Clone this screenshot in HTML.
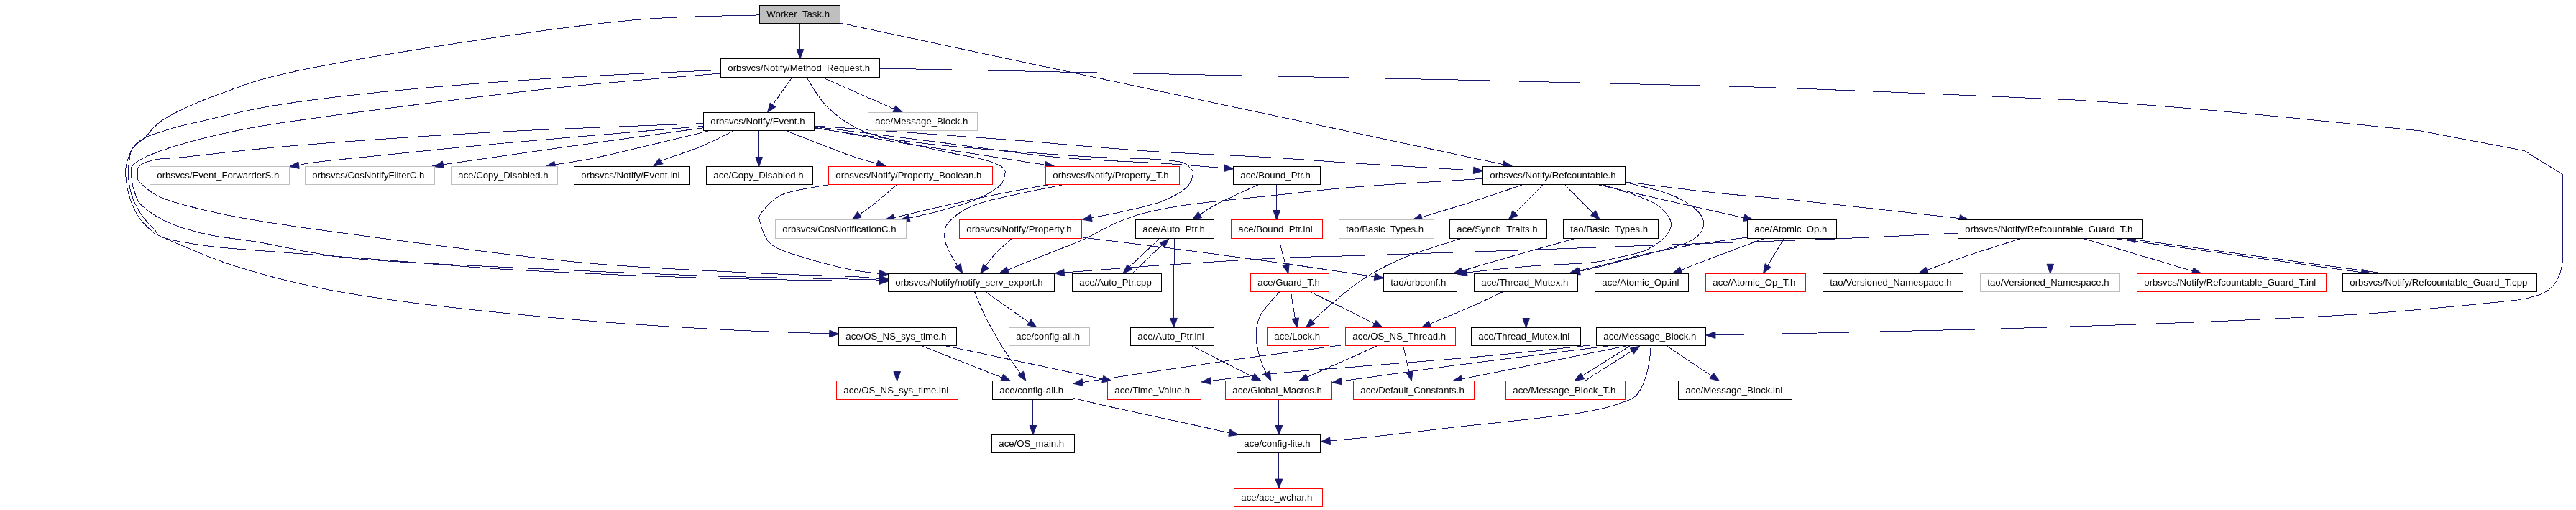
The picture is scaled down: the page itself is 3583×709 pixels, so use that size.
<!DOCTYPE html><html><head><meta charset="utf-8"><title>Worker_Task.h include graph</title>
<style>html,body{margin:0;padding:0;background:#fff}svg{display:block}text{font-family:"Liberation Sans",sans-serif;font-size:13.2px;fill:#000}</style></head><body>
<svg width="3583" height="709" viewBox="0 0 3583 709">
<rect x="0" y="0" width="3583" height="709" fill="#ffffff"/>
<g fill="none" stroke="#191970" stroke-width="1" shape-rendering="crispEdges">
<path d="M1112.4,32.5 L1112.4,72.5"/>
<path d="M1056,20.9 C1026.9,22 949.1,21.6 881.4,27.8 C813.6,34 728.4,46 649.5,58 C570.6,70 466.2,87.3 408.2,99.7 C350.2,112.1 331.3,121.4 301.5,132.2 C271.7,143 246.3,154.8 229.6,164.7 C212.9,174.6 208.8,184.6 201.2,191.6 C193.6,198.6 188.5,200.4 184.3,206.5 C180.1,212.6 177.6,221.7 176,228 C174.4,234.3 174.3,237.2 174.9,244.5 C175.5,251.8 176.8,262.9 179.6,272 C182.3,281.1 186.2,291.2 191.4,299.4 C196.6,307.6 204.8,315.8 211,321 C217.2,326.2 209.7,322.8 228.6,330.8 C247.5,338.8 287.5,357.4 324.7,369.2 C361.9,381 405.8,392.6 451.8,401.8 C497.8,411 538.8,416.8 600.9,424.2 C663,431.6 756.2,440.8 824.5,446.5 C892.8,452.2 955.5,455.6 1010.9,458.5 C1066.3,461.4 1132.7,463.1 1157.1,464.1"/>
<path d="M1002.5,97.4 C966.9,99.1 862.9,102.9 788.6,107.6 C714.3,112.2 624,118.9 556.7,125.3 C489.4,131.7 432.2,138.7 385,146.1 C337.8,153.5 297.7,164.7 273.7,170 C249.7,175.3 253.3,174.4 241.2,178 C229.1,181.6 210.7,186.8 201.2,191.6 C191.7,196.3 187.9,200.8 184.3,206.5 C180.7,212.2 180.5,219.7 179.5,226 C178.5,232.3 177.7,236.8 178.4,244.5 C179.1,252.2 180.3,262.9 183.5,272 C186.7,281.1 192.1,291.6 197.3,299.4 C202.5,307.2 209.7,313.8 214.9,319 C220.1,324.2 215.5,326.9 228.6,330.8 C241.7,334.7 271.4,339.6 293.3,342.5 C315.2,345.4 321.1,345.3 360,348.4 C398.9,351.4 467.6,356.4 526.4,360.8 C585.2,365.2 638.2,370.8 712.7,375 C787.2,379.2 895.7,383.6 973.6,386.2 C1051.5,388.8 1137.9,389.6 1180,390.4 C1222.1,391.2 1218.6,390.7 1226.3,390.7"/>
<path d="M1002.5,102 C966.9,105.1 862.9,112.9 788.6,120.6 C714.3,128.3 626.3,139.5 556.7,148.4 C487.1,157.3 417.6,166.5 371.1,174 C324.6,181.5 303.6,187 277.6,193.5 C251.6,200 230.3,207.1 215,213 C199.7,218.9 190.9,223.8 185.5,229 C180.1,234.2 182.4,238 182.7,244.5 C183,251 184.8,260.8 187.5,268 C190.2,275.2 190.7,280.4 199.2,287.6 C207.7,294.8 222.7,304.6 238.4,311.2 C254.1,317.8 273,322.6 293.3,326.9 C313.6,331.1 327.4,331.3 360,336.7 C392.6,342.1 430.2,353.1 489,359 C547.8,364.9 631.9,368 712.7,372 C793.5,376 895.7,380.5 973.6,383.2 C1051.5,385.9 1137.9,387 1180,388 C1222.1,389 1218.6,389.1 1226.3,389.3"/>
<path d="M978.4,171.6 C931.3,173.5 789.4,178.2 695.9,183.2 C602.4,188.2 490.2,196 417.5,201.8 C344.8,207.6 292.9,214.7 259.8,218 C226.7,221.3 229.8,219.6 219,221.5 C208.2,223.4 199.9,226.1 195.3,229.6 C190.7,233.1 191.1,238.1 191.4,242.5 C191.7,246.9 189.2,249.8 197,256 C204.8,262.2 211.2,271.3 238.4,279.8 C265.6,288.3 299.6,296.9 360,307 C420.4,317.1 523.5,330.4 600.9,340.3 C678.3,350.2 750,359.9 824.5,366.4 C899,372.9 988.8,376.5 1048,379.5 C1107.2,382.5 1151,382.9 1180,384.2 C1209,385.5 1214.3,386.7 1222,387.3 C1229.7,387.9 1225.6,387.5 1226.3,387.6"/>
<path d="M978.4,175.4 C931.3,179.4 781.6,191.6 695.9,199.5 C610.1,207.4 511.3,217.6 463.9,222.7 C416.5,227.8 420,229 411.2,230.2"/>
<path d="M978.4,177.7 C946.8,182.1 849.2,195.5 788.6,204.1 C728,212.7 644.4,224.7 615,229 C585.6,233.3 612.6,229.5 612.1,229.6"/>
<path d="M988,181.4 C962.5,187.5 871.2,210.1 835,218 C798.8,225.9 782.2,227 771,229 C759.8,231 768.1,229.6 767.5,229.7"/>
<path d="M1021.5,181.4 C1013.6,185.2 991,197 974,204 C957,211 929.1,219.8 919.4,223.5 C909.7,227.2 916.3,225.6 915.7,226"/>
<path d="M1055.2,181.4 L1055.2,222.4"/>
<path d="M1092.5,181.4 C1106.8,186.9 1156.6,206.8 1178.4,214.7 C1200.2,222.6 1215.8,226.2 1223.3,228.5"/>
<path d="M1132.4,177 C1152,180.5 1214.7,192.1 1250,198 C1285.3,203.9 1309.5,206.9 1344,212.2 C1378.5,217.5 1438.3,226.9 1457.1,229.8"/>
<path d="M1132.4,176 C1160.3,179.5 1244,189.9 1300,197 C1356,204.1 1415.6,213.5 1468.6,218.5 C1521.6,223.5 1578.4,224.6 1618,227.2 C1657.6,229.8 1691.4,232.9 1706.1,234"/>
<path d="M1132.4,175 C1176,178.1 1317.1,187.8 1393.9,193.6 C1470.7,199.4 1532.1,205.7 1593.1,209.8 C1654.1,214 1710.7,215.6 1760,218.5 C1809.3,221.4 1840.2,224.1 1889,227.2 C1937.8,230.3 2025.7,235.4 2053,237.1"/>
<path d="M1132.4,178 C1160.3,181.8 1238.7,194.5 1300,201 C1361.3,207.5 1450,213.7 1500,217 C1550,220.3 1576.2,219.6 1600,221 C1623.8,222.4 1633.7,223.3 1643,225.5 C1652.3,227.7 1653.3,231.2 1656,234 C1658.7,236.8 1660.2,237.9 1659.2,242.5 C1658.2,247.1 1657.1,255.1 1649.8,261.4 C1642.5,267.7 1628.9,275 1615.3,280.2 C1601.7,285.4 1583.9,289 1568.2,292.7 C1552.5,296.4 1530.3,300.4 1521.2,302.2 C1512.1,304 1515.1,303.4 1513.8,303.6"/>
<path d="M1121.7,107.6 C1126.5,114.4 1138.3,136.4 1150.5,148.5 C1162.7,160.6 1179,172.2 1194.7,179.9 C1210.4,187.6 1225.3,189.8 1244.5,194.8 C1263.7,199.8 1289.2,205.4 1310,210 C1330.8,214.6 1355,218.5 1369,222.2 C1383,225.9 1389.1,228.7 1393.9,232.2 C1398.7,235.7 1398.5,238.8 1397.6,243.4 C1396.7,248 1396.3,253.8 1388.6,259.9 C1380.9,266 1366.1,273.9 1351.3,279.8 C1336.5,285.7 1315.1,291 1300,295 C1284.9,299 1267.1,302.5 1260.6,304"/>
<path d="M1101.8,107.6 L1072.3,149.1"/>
<path d="M1143.5,107.6 L1247,152.9"/>
<path d="M1168.6,32 L2094.1,229.3"/>
<path d="M1247.9,256.4 C1242.3,261.1 1223.6,277.5 1214.3,284.8 C1205,292.1 1195.6,297.7 1191.9,300.3"/>
<path d="M1154.5,256.4 C1143.7,258.6 1105.6,263.5 1089.8,269.9 C1074,276.3 1065.3,288.2 1059.9,294.8 C1054.5,301.4 1055.3,302.2 1057.4,309.7 C1059.5,317.2 1062.8,331.7 1072.4,339.6 C1082.1,347.5 1097.4,351.3 1115.3,357.1 C1133.2,362.9 1162.2,370.3 1180,374.2 C1197.8,378.1 1214.5,379.2 1222.2,380.3 C1229.9,381.4 1225.6,380.5 1226.3,380.6"/>
<path d="M1458.4,256.7 C1442.6,259.7 1400.2,267.1 1363.7,274.9 C1327.2,282.7 1260.1,298.7 1239.4,303.5"/>
<path d="M1478.8,256.7 C1459.6,261 1389.9,273.9 1363.7,282.3 C1337.5,290.7 1329.7,299.7 1321.4,307.2 C1313.1,314.7 1314.3,320.5 1313.9,327.2 C1313.5,333.9 1315.6,339.6 1318.9,347.1 C1322.2,354.6 1331.2,368.2 1333.6,372.4"/>
<path d="M1407.3,331.6 C1403.6,335 1391.4,345.1 1385,352 C1378.6,358.9 1371.4,369.6 1368.7,373.1"/>
<path d="M1504.4,329.8 C1525.5,332.4 1585.1,339.6 1631,345.5 C1676.9,351.4 1738.5,359.8 1780,365.5 C1821.5,371.2 1857.4,376.5 1880,379.8 C1902.6,383.1 1909.4,384.4 1915.3,385.3"/>
<path d="M1750.2,256.7 C1740.8,261.1 1707.8,276 1693.7,283.3 C1679.6,290.6 1670.1,297.7 1665.4,300.6"/>
<path d="M1775.2,256.6 L1775.2,296.4"/>
<path d="M1780,331.4 C1780.3,333.7 1780.5,338.3 1782,345 C1783.5,351.7 1787.9,367.1 1789.1,371.5"/>
<path d="M1612.2,332 L1567.9,374"/>
<path d="M1574.5,380.3 L1618.7,338.3"/>
<path d="M1633.7,331.4 C1633.5,342.8 1632.8,380.8 1632.5,400 C1632.2,419.2 1632.2,438.6 1632.1,446.3"/>
<path d="M2118.9,256.4 C2105.8,260.8 2064.3,275.2 2040,283 C2015.7,290.8 1984.4,299.6 1973.2,302.9"/>
<path d="M2146.3,256.4 L2104.1,299"/>
<path d="M2176.2,256.4 L2218.3,299"/>
<path d="M2221,256.4 C2240.8,260.9 2305.5,275.9 2339.6,283.6 C2373.7,291.3 2410.6,299.4 2425.5,302.7 C2440.4,306 2428.5,303.4 2429.1,303.5"/>
<path d="M2261.2,253 C2282.7,255.6 2352,264.4 2390,268.5 C2428,272.6 2433.1,271.6 2489,277.4 C2544.9,283.2 2685.6,299.1 2725.6,303.5 C2765.6,307.9 2728.4,304 2729,304.1"/>
<path d="M2062,248.4 C2033.2,250.3 1936,255.9 1889,259.6 C1842,263.3 1817.8,266.9 1780,270.8 C1742.2,274.8 1692.5,279.4 1662.4,283.3 C1632.3,287.2 1617.4,290.1 1599.6,294.3 C1581.8,298.5 1571.4,301.9 1555.7,308.4 C1540,314.9 1524.3,325.1 1505.5,333.5 C1486.7,341.9 1460.7,351.4 1442.7,358.6 C1424.7,365.8 1405.1,373.8 1397.6,376.9"/>
<path d="M2228.4,256.4 C2236.6,259.1 2264.7,267.7 2277.4,272.4 C2290.1,277.1 2297.6,280.2 2304.7,284.8 C2311.8,289.4 2316.4,295.2 2319.7,299.8 C2323,304.4 2324.7,308.1 2324.7,312.2 C2324.7,316.3 2322.6,320.5 2319.7,324.7 C2316.8,328.9 2313,333 2307.2,337.1 C2301.4,341.2 2293.8,346.2 2284.8,349.6 C2275.9,353 2265.4,354.8 2253.5,357.4 C2241.6,360 2234.2,362.9 2213.5,365 C2192.8,367.1 2157.9,367.7 2129,370 C2100.1,372.3 2055.5,377.4 2040,379 C2024.5,380.6 2036.7,379.5 2036,379.6"/>
<path d="M2261.2,253.7 C2270.1,256 2300.4,262.6 2314.7,267.4 C2329,272.2 2338.8,277.3 2347.1,282.3 C2355.4,287.3 2360.8,292.7 2364.5,297.3 C2368.2,301.9 2369.5,305.1 2369.5,309.7 C2369.5,314.3 2368.2,320.1 2364.5,324.7 C2360.8,329.3 2355.4,333.4 2347.1,337.1 C2338.8,340.8 2326.1,344 2314.7,347.1 C2303.2,350.2 2290.8,352.4 2278.4,355.5 C2266,358.6 2254.5,362 2240,365.7 C2225.5,369.4 2199.4,375.6 2191.3,377.6"/>
<path d="M2031.7,331.6 C2018.9,335.9 1975.8,348.9 1954.7,357.4 C1933.6,365.8 1917.4,375.2 1904.9,382.3 C1892.5,389.4 1888.8,393 1880,399.7 C1871.2,406.4 1861.6,414.1 1852,422.4 C1842.4,430.7 1827.5,444.9 1822.6,449.4"/>
<path d="M2191.3,331.4 C2176.1,335.7 2127,349.2 2100,357 C2073,364.8 2041.2,374.4 2029.4,377.9"/>
<path d="M2430.3,330 C2413.3,332.5 2361.8,338.3 2328.2,344.9 C2294.6,351.5 2251.2,364.2 2228.6,369.8 C2206,375.4 2198.8,376.8 2192.9,378.2"/>
<path d="M2452.7,332 C2440.2,336.6 2397.8,352.3 2378,359.8 C2358.2,367.3 2341.5,374.1 2334.2,377"/>
<path d="M2481.2,332 L2456.7,372.5"/>
<path d="M2723.5,324.1 C2694.9,325.4 2618,329.4 2552.1,332 C2486.2,334.6 2398.7,337.3 2328.2,339.9 C2257.7,342.5 2203.7,344.8 2129,347.4 C2054.3,350 1938.2,353.7 1880,355.6 C1821.8,357.5 1826.9,356.2 1780,358.6 C1733.1,361 1649.1,366.4 1598.4,369.9 C1547.7,373.4 1496.2,377.7 1475.8,379.3"/>
<path d="M2809.2,332 C2794.9,336.6 2745.6,352.3 2723.5,359.8 C2701.4,367.3 2684.3,374.3 2676.4,377.2"/>
<path d="M2851.3,331.4 L2851.3,371.2"/>
<path d="M2899.5,332 L3052.9,377.7"/>
<path d="M2940,331.4 L3288,379.1"/>
<path d="M3317,380.3 L2966,332.6"/>
<path d="M1779.8,405.4 C1775.2,411.1 1757.8,428.7 1752.4,439.8 C1747,450.9 1747,461.4 1747.4,472.2 C1747.8,483 1752.3,496.7 1754.9,504.9 C1757.5,513.1 1761.8,518.7 1763.2,521.5"/>
<path d="M1795.4,405.4 L1802,446.5"/>
<path d="M1822.1,405.4 L1914.8,451.4"/>
<path d="M2091,405.4 C2083.1,409.1 2061.4,419.6 2043.7,427.4 C2026,435.2 1994.7,447.9 1984.9,452"/>
<path d="M2122.2,405.4 L2122.2,446.4"/>
<path d="M1370.6,405.5 L1434.1,450.1"/>
<path d="M1355.6,405.5 C1358.1,411.2 1364,427.2 1370.4,440 C1376.8,452.8 1385.6,468.6 1394.1,482.3 C1402.6,496 1416.7,515.5 1421.3,522.1"/>
<path d="M1247.2,480.3 L1247.2,520.5"/>
<path d="M1280.8,480.3 L1396.8,526.2"/>
<path d="M1313.1,480.3 L1537.1,527.7"/>
<path d="M1656.8,480.3 L1745.8,525.5"/>
<path d="M1871.4,479.1 C1846.2,482.5 1781.7,490.8 1720,499.6 C1658.3,508.4 1537.8,526.7 1501.4,532.1"/>
<path d="M1916.7,480.4 L1814.2,525.9"/>
<path d="M1951.6,480.4 L1960.8,520.7"/>
<path d="M2220.5,479.1 C2191,482.1 2113.8,490.8 2043.7,497.1 C1973.6,503.4 1860.7,511.2 1800,516.7 C1739.3,522.2 1699.8,527.7 1679.7,529.9"/>
<path d="M2237.9,480.9 C2201.4,485.5 2081.5,500.3 2018.8,508.6 C1956.1,516.9 1887.7,526.9 1861.5,530.5"/>
<path d="M2262.8,480.9 L2028.9,527.8"/>
<path d="M2266.6,481.2 L2197.1,524.8"/>
<path d="M2204.3,529.6 L2272.6,486.1"/>
<path d="M2317.6,480.4 L2383.4,524.5"/>
<path d="M2296.4,480.4 C2295.8,485.3 2295,500 2292.7,509.9 C2290.4,519.8 2287.7,531.9 2282.7,539.8 C2277.7,547.7 2277.7,551.4 2262.8,557.2 C2247.9,563 2233.8,568.4 2193.1,574.6 C2152.4,580.8 2065.7,589.1 2018.8,594.5 C1971.9,599.9 1940.6,603.9 1911.7,607 C1882.8,610.1 1856.7,612.1 1845.7,613.2"/>
<path d="M1436.4,555.3 L1436.4,595.4"/>
<path d="M1492.4,553.3 C1502.2,555.6 1523.5,560.9 1550.9,567 C1578.3,573.1 1630,584.1 1657,590 C1684,595.9 1703.8,600.4 1713.1,602.5"/>
<path d="M1778.4,555.3 L1778.4,595.4"/>
<path d="M1778.4,629.4 L1778.4,670"/>
<path d="M1223.5,95 C1600,101 2000,110 2390,119.6 C2560,124 2720,132 2885.6,139 C3050,149 3210,166 3367,182 L3511,209.5 L3564.6,242.6 L3564.6,362 C3562,385 3552,400 3538.7,407 C3528,412 3515,415 3501.6,417 C3430,425 3360,431 3295.5,436 C3180,443 3060,448 2945.8,451.9 C2800,457 2650,461 2505.8,463.5 L2384,465.8"/>
</g>
<g fill="#191970" stroke="#191970" stroke-width="1">
<path d="M1112.9,81.6 L1108.1,68.6 L1117.7,68.6 Z"/>
<path d="M1166.7,464.4 L1153.5,468.7 L1153.9,459.1 Z"/>
<path d="M1235.9,390.8 L1222.9,395.5 L1222.9,385.9 Z"/>
<path d="M1235.9,389.6 L1222.8,394 L1223,384.4 Z"/>
<path d="M1235.9,388.2 L1222.6,392.1 L1223.3,382.5 Z"/>
<path d="M402.7,231.5 L414.9,224.9 L416.2,234.4 Z"/>
<path d="M603.7,231.5 L615.4,224.1 L617.4,233.5 Z"/>
<path d="M759.1,231.5 L770.9,224.2 L772.8,233.6 Z"/>
<path d="M908.7,231.2 L916.7,219.9 L922.1,227.8 Z"/>
<path d="M1055.7,231.5 L1050.9,218.5 L1060.5,218.5 Z"/>
<path d="M1232.5,231.2 L1218.7,232 L1221.5,222.8 Z"/>
<path d="M1466.6,231.2 L1453,233.9 L1454.5,224.5 Z"/>
<path d="M1715.7,234.7 L1702.4,238.5 L1703.1,228.9 Z"/>
<path d="M2062.6,237.6 L2049.3,241.6 L2049.9,232 Z"/>
<path d="M1505.4,305.3 L1517.3,298.2 L1519.1,307.6 Z"/>
<path d="M1252.2,306 L1263.8,298.4 L1265.9,307.8 Z"/>
<path d="M1067.5,156.5 L1071.1,143.1 L1078.9,148.7 Z"/>
<path d="M1255.8,156.5 L1242,155.7 L1245.8,146.9 Z"/>
<path d="M2103.5,231.2 L2089.8,233.2 L2091.8,223.8 Z"/>
<path d="M1184.9,305.5 L1192.9,294.2 L1198.3,302 Z"/>
<path d="M1235.9,381.2 L1222.6,385.1 L1223.3,375.5 Z"/>
<path d="M1231,305.5 L1242.6,297.9 L1244.7,307.3 Z"/>
<path d="M1338.7,380.3 L1328,371.5 L1336.3,366.6 Z"/>
<path d="M1363.6,380.3 L1367.8,367.1 L1375.4,373 Z"/>
<path d="M1924.8,386.7 L1911.2,389.4 L1912.7,380 Z"/>
<path d="M1658.1,305.3 L1666.7,294.4 L1671.7,302.6 Z"/>
<path d="M1775.7,305.5 L1770.9,292.5 L1780.5,292.5 Z"/>
<path d="M1791.9,380.3 L1783.9,369 L1793.2,366.5 Z"/>
<path d="M1561.8,380.3 L1567.9,367.9 L1574.5,374.8 Z"/>
<path d="M1625.8,332 L1619.7,344.4 L1613.1,337.5 Z"/>
<path d="M1632.5,455.4 L1627.8,442.4 L1637.4,442.4 Z"/>
<path d="M1965,305.5 L1976.1,297.2 L1978.8,306.4 Z"/>
<path d="M2098.2,305.5 L2103.9,292.9 L2110.8,299.6 Z"/>
<path d="M2225.2,305.5 L2212.6,299.6 L2219.5,292.9 Z"/>
<path d="M2438.5,305.5 L2424.8,307.3 L2426.9,298 Z"/>
<path d="M2738.5,305.5 L2724.9,308.2 L2726.4,298.7 Z"/>
<path d="M1389.7,380.3 L1399.9,371 L1403.6,379.9 Z"/>
<path d="M2027.5,381 L2039.6,374.3 L2041.1,383.8 Z"/>
<path d="M2183,379.8 L2194.5,372 L2196.8,381.4 Z"/>
<path d="M1816.4,455.5 L1822.7,443.2 L1829.2,450.3 Z"/>
<path d="M2021.2,380.5 L2032.3,372.2 L2035,381.4 Z"/>
<path d="M2184.5,380.3 L2196.1,372.6 L2198.3,382 Z"/>
<path d="M2326.2,380.3 L2336.6,371.1 L2340.1,380 Z"/>
<path d="M2452.5,380.3 L2455.1,366.7 L2463.3,371.7 Z"/>
<path d="M1467.2,380 L1479.8,374.2 L1480.5,383.8 Z"/>
<path d="M2668.4,380.3 L2678.9,371.3 L2682.3,380.3 Z"/>
<path d="M2851.8,380.3 L2847,367.3 L2856.6,367.3 Z"/>
<path d="M3062.1,380.3 L3048.3,381.2 L3051,372 Z"/>
<path d="M3297.5,380.3 L3284,383.3 L3285.3,373.8 Z"/>
<path d="M2957.5,331.4 L2971,328.4 L2969.7,337.9 Z"/>
<path d="M1767.8,529.6 L1757.7,520.1 L1766.3,515.8 Z"/>
<path d="M1803.9,455.5 L1797.1,443.4 L1806.6,441.9 Z"/>
<path d="M1923.4,455.5 L1909.6,454 L1913.9,445.4 Z"/>
<path d="M1977,455.5 L1987.1,446.1 L1990.8,454.9 Z"/>
<path d="M2122.7,455.5 L2117.9,442.5 L2127.5,442.5 Z"/>
<path d="M1442,455.3 L1428.6,451.8 L1434.1,443.9 Z"/>
<path d="M1426.9,529.6 L1415.6,521.6 L1423.5,516.2 Z"/>
<path d="M1247.7,529.6 L1242.9,516.6 L1252.5,516.6 Z"/>
<path d="M1405.8,529.6 L1391.9,529.3 L1395.5,520.4 Z"/>
<path d="M1546.5,529.6 L1532.8,531.6 L1534.8,522.2 Z"/>
<path d="M1754.4,529.6 L1740.6,528 L1745,519.4 Z"/>
<path d="M1492.9,533.4 L1505.1,526.7 L1506.5,536.2 Z"/>
<path d="M1806.4,529.6 L1816.3,519.9 L1820.2,528.7 Z"/>
<path d="M1963.3,529.6 L1955.7,518 L1965.1,515.9 Z"/>
<path d="M1671.2,530.9 L1683.6,524.7 L1684.6,534.3 Z"/>
<path d="M1853,531.8 L1865.2,525.2 L1866.5,534.8 Z"/>
<path d="M2020.5,529.6 L2032.3,522.3 L2034.2,531.7 Z"/>
<path d="M2189.9,529.6 L2198.4,518.6 L2203.5,526.8 Z"/>
<path d="M2280.8,481.2 L2272.4,492.2 L2267.3,484.1 Z"/>
<path d="M2391.5,529.6 L2378,526.3 L2383.4,518.4 Z"/>
<path d="M1837.1,614 L1849.6,608 L1850.5,617.6 Z"/>
<path d="M1436.9,604.5 L1432.1,591.5 L1441.7,591.5 Z"/>
<path d="M1722.5,604.5 L1708.8,606.4 L1710.9,597 Z"/>
<path d="M1778.9,604.5 L1774.1,591.5 L1783.7,591.5 Z"/>
<path d="M1778.9,679.1 L1774.1,666.1 L1783.7,666.1 Z"/>
<path d="M2372.9,466 L2385.8,461 L2386,470.6 Z"/>
</g>
<g shape-rendering="crispEdges" stroke-width="1">
<rect x="1056.5" y="7.5" width="112" height="25" fill="#bfbfbf" stroke="#000000"/>
<rect x="1002.5" y="81.5" width="221" height="26" fill="#ffffff" stroke="#000000"/>
<rect x="978.5" y="156.5" width="154" height="25" fill="#ffffff" stroke="#000000"/>
<rect x="1207.5" y="156.5" width="152" height="25" fill="#ffffff" stroke="#bfbfbf"/>
<rect x="208.5" y="231.5" width="194" height="25" fill="#ffffff" stroke="#bfbfbf"/>
<rect x="424.5" y="231.5" width="180" height="25" fill="#ffffff" stroke="#bfbfbf"/>
<rect x="627.5" y="231.5" width="148" height="25" fill="#ffffff" stroke="#bfbfbf"/>
<rect x="798.5" y="231.5" width="161" height="25" fill="#ffffff" stroke="#000000"/>
<rect x="982.5" y="231.5" width="148" height="25" fill="#ffffff" stroke="#000000"/>
<rect x="1152.5" y="231.5" width="228" height="25" fill="#ffffff" stroke="#ff0000"/>
<rect x="1454.5" y="231.5" width="186" height="25" fill="#ffffff" stroke="#ff0000"/>
<rect x="1715.5" y="231.5" width="121" height="25" fill="#ffffff" stroke="#000000"/>
<rect x="2062.5" y="231.5" width="198" height="25" fill="#ffffff" stroke="#000000"/>
<rect x="1078.5" y="305.5" width="182" height="26" fill="#ffffff" stroke="#bfbfbf"/>
<rect x="1334.5" y="305.5" width="170" height="26" fill="#ffffff" stroke="#ff0000"/>
<rect x="1579.5" y="305.5" width="109" height="26" fill="#ffffff" stroke="#000000"/>
<rect x="1712.5" y="305.5" width="127" height="26" fill="#ffffff" stroke="#ff0000"/>
<rect x="1862.5" y="305.5" width="132" height="26" fill="#ffffff" stroke="#bfbfbf"/>
<rect x="2016.5" y="305.5" width="135" height="26" fill="#ffffff" stroke="#000000"/>
<rect x="2174.5" y="305.5" width="132" height="26" fill="#ffffff" stroke="#000000"/>
<rect x="2430.5" y="305.5" width="124" height="26" fill="#ffffff" stroke="#000000"/>
<rect x="2723.5" y="305.5" width="257" height="26" fill="#ffffff" stroke="#000000"/>
<rect x="1235.5" y="380.5" width="231" height="25" fill="#ffffff" stroke="#000000"/>
<rect x="1491.5" y="380.5" width="124" height="25" fill="#ffffff" stroke="#000000"/>
<rect x="1739.5" y="380.5" width="109" height="25" fill="#ffffff" stroke="#ff0000"/>
<rect x="1924.5" y="380.5" width="102" height="25" fill="#ffffff" stroke="#000000"/>
<rect x="2050.5" y="380.5" width="144" height="25" fill="#ffffff" stroke="#000000"/>
<rect x="2218.5" y="380.5" width="130" height="25" fill="#ffffff" stroke="#000000"/>
<rect x="2372.5" y="380.5" width="139" height="25" fill="#ffffff" stroke="#ff0000"/>
<rect x="2535.5" y="380.5" width="195" height="25" fill="#ffffff" stroke="#000000"/>
<rect x="2754.5" y="380.5" width="194" height="25" fill="#ffffff" stroke="#bfbfbf"/>
<rect x="2972.5" y="380.5" width="263" height="25" fill="#ffffff" stroke="#ff0000"/>
<rect x="3258.5" y="380.5" width="270" height="25" fill="#ffffff" stroke="#000000"/>
<rect x="1166.5" y="455.5" width="164" height="25" fill="#ffffff" stroke="#000000"/>
<rect x="1403.5" y="455.5" width="112" height="25" fill="#ffffff" stroke="#bfbfbf"/>
<rect x="1572.5" y="455.5" width="116" height="25" fill="#ffffff" stroke="#000000"/>
<rect x="1762.5" y="455.5" width="86" height="25" fill="#ffffff" stroke="#ff0000"/>
<rect x="1871.5" y="455.5" width="153" height="25" fill="#ffffff" stroke="#ff0000"/>
<rect x="2046.5" y="455.5" width="152" height="25" fill="#ffffff" stroke="#000000"/>
<rect x="2220.5" y="455.5" width="152" height="25" fill="#ffffff" stroke="#000000"/>
<rect x="1163.5" y="529.5" width="169" height="26" fill="#ffffff" stroke="#ff0000"/>
<rect x="1380.5" y="529.5" width="112" height="26" fill="#ffffff" stroke="#000000"/>
<rect x="1540.5" y="529.5" width="130" height="26" fill="#ffffff" stroke="#ff0000"/>
<rect x="1704.5" y="529.5" width="148" height="26" fill="#ffffff" stroke="#ff0000"/>
<rect x="1882.5" y="529.5" width="168" height="26" fill="#ffffff" stroke="#ff0000"/>
<rect x="2094.5" y="529.5" width="166" height="26" fill="#ffffff" stroke="#ff0000"/>
<rect x="2334.5" y="529.5" width="158" height="26" fill="#ffffff" stroke="#000000"/>
<rect x="1379.5" y="604.5" width="115" height="25" fill="#ffffff" stroke="#000000"/>
<rect x="1720.5" y="604.5" width="116" height="25" fill="#ffffff" stroke="#000000"/>
<rect x="1716.5" y="679.5" width="123" height="25" fill="#ffffff" stroke="#ff0000"/>
</g>
<g style="filter:grayscale(1)">
<text x="1066.3" y="24">Worker_Task.h</text>
<text x="1012.3" y="99">orbsvcs/Notify/Method_Request.h</text>
<text x="988.3" y="173">orbsvcs/Notify/Event.h</text>
<text x="1217.3" y="173">ace/Message_Block.h</text>
<text x="218.3" y="248">orbsvcs/Event_ForwarderS.h</text>
<text x="434.3" y="248">orbsvcs/CosNotifyFilterC.h</text>
<text x="637.3" y="248">ace/Copy_Disabled.h</text>
<text x="808.3" y="248">orbsvcs/Notify/Event.inl</text>
<text x="992.3" y="248">ace/Copy_Disabled.h</text>
<text x="1162.3" y="248">orbsvcs/Notify/Property_Boolean.h</text>
<text x="1464.3" y="248">orbsvcs/Notify/Property_T.h</text>
<text x="1725.3" y="248">ace/Bound_Ptr.h</text>
<text x="2072.3" y="248">orbsvcs/Notify/Refcountable.h</text>
<text x="1088.3" y="323">orbsvcs/CosNotificationC.h</text>
<text x="1344.3" y="323">orbsvcs/Notify/Property.h</text>
<text x="1589.3" y="323">ace/Auto_Ptr.h</text>
<text x="1722.3" y="323">ace/Bound_Ptr.inl</text>
<text x="1872.3" y="323">tao/Basic_Types.h</text>
<text x="2026.3" y="323">ace/Synch_Traits.h</text>
<text x="2184.3" y="323">tao/Basic_Types.h</text>
<text x="2440.3" y="323">ace/Atomic_Op.h</text>
<text x="2733.3" y="323">orbsvcs/Notify/Refcountable_Guard_T.h</text>
<text x="1245.3" y="397">orbsvcs/Notify/notify_serv_export.h</text>
<text x="1501.3" y="397">ace/Auto_Ptr.cpp</text>
<text x="1749.3" y="397">ace/Guard_T.h</text>
<text x="1934.3" y="397">tao/orbconf.h</text>
<text x="2060.3" y="397">ace/Thread_Mutex.h</text>
<text x="2228.3" y="397">ace/Atomic_Op.inl</text>
<text x="2382.3" y="397">ace/Atomic_Op_T.h</text>
<text x="2545.3" y="397">tao/Versioned_Namespace.h</text>
<text x="2764.3" y="397">tao/Versioned_Namespace.h</text>
<text x="2982.3" y="397">orbsvcs/Notify/Refcountable_Guard_T.inl</text>
<text x="3268.3" y="397">orbsvcs/Notify/Refcountable_Guard_T.cpp</text>
<text x="1176.3" y="472">ace/OS_NS_sys_time.h</text>
<text x="1413.3" y="472">ace/config-all.h</text>
<text x="1582.3" y="472">ace/Auto_Ptr.inl</text>
<text x="1772.3" y="472">ace/Lock.h</text>
<text x="1881.3" y="472">ace/OS_NS_Thread.h</text>
<text x="2056.3" y="472">ace/Thread_Mutex.inl</text>
<text x="2230.3" y="472">ace/Message_Block.h</text>
<text x="1173.3" y="547">ace/OS_NS_sys_time.inl</text>
<text x="1390.3" y="547">ace/config-all.h</text>
<text x="1550.3" y="547">ace/Time_Value.h</text>
<text x="1714.3" y="547">ace/Global_Macros.h</text>
<text x="1892.3" y="547">ace/Default_Constants.h</text>
<text x="2104.3" y="547">ace/Message_Block_T.h</text>
<text x="2344.3" y="547">ace/Message_Block.inl</text>
<text x="1389.3" y="621">ace/OS_main.h</text>
<text x="1730.3" y="621">ace/config-lite.h</text>
<text x="1726.3" y="696">ace/ace_wchar.h</text>
</g>
</svg></body></html>
